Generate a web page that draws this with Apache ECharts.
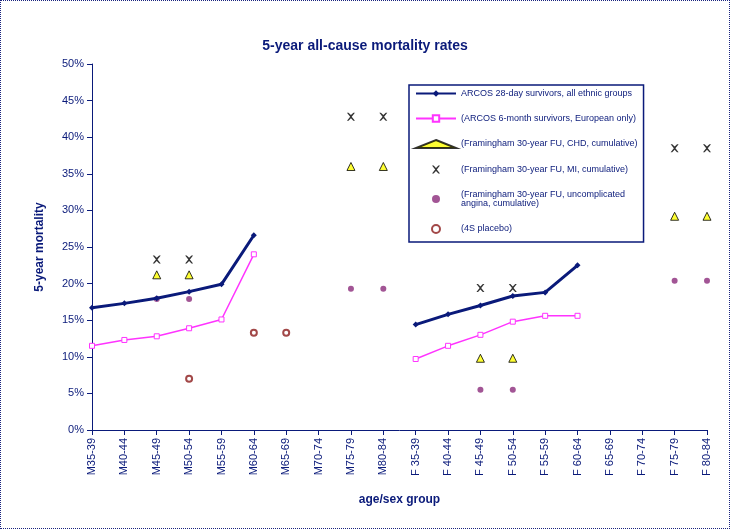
<!DOCTYPE html>
<html>
<head>
<meta charset="UTF-8">
<title>5-year all-cause mortality rates</title>
<script type="text/javascript" src="https://cdn.jsdelivr.net/npm/echarts@6/dist/echarts.min.js"></script>
<style type="text/css">
	body{ margin:0; }
	#main{ width:730px; height:529px; box-sizing:border-box; border:1px dotted #1a237e; }
</style>
</head>
<body>
<div id="main"></div>
<script type="text/javascript">
	var categories = ['M35-39','M40-44','M45-49','M50-54','M55-59','M60-64','M65-69','M70-74','M75-79','M80-84',
		'F 35-39','F 40-44','F 45-49','F 50-54','F 55-59','F 60-64','F 65-69','F 70-74','F 75-79','F 80-84'];
	var arcos28 = [16.7,17.3,18.0,18.9,19.9,26.6,null,null,null,null,14.4,15.8,17.0,18.3,18.8,22.5,null,null,null,null];
	var arcos6m = [11.5,12.3,12.8,13.9,15.1,24.0,null,null,null,null,9.7,11.5,13.0,14.8,15.6,15.6,null,null,null,null];
	var framChd = [null,null,21.2,21.2,null,null,null,null,36.0,36.0,null,null,9.8,9.8,null,null,null,null,29.2,29.2];
	var framMi = [null,null,23.3,23.3,null,null,null,null,42.8,42.8,null,null,19.4,19.4,null,null,null,null,38.5,38.5];
	var framAngina = [null,null,17.9,17.9,null,null,null,null,19.3,19.3,null,null,5.5,5.5,null,null,null,null,20.4,20.4];
	var placebo4s = [null,null,null,7.0,null,13.3,13.3,null,null,null,null,null,null,null,null,null,null,null,null,null];

	var xPath = 'path://M0,0L2,0L5,3L8,0L10,0L6,5L10,10L8,10L5,7L2,10L0,10L4,5Z';
	var navy = '#0a1a7a';

	var myChart = echarts.init(document.getElementById('main'));
	var option = {
		animation: false,
		title: {
			text: '5-year all-cause mortality rates',
			left: 'center', top: 33,
			textStyle: { fontFamily: 'Arial', fontSize: 14, fontWeight: 'bold', color: navy }
		},
		legend: {
			orient: 'vertical', left: 408, top: 84, width: 216, height: 160,
			itemWidth: 40, itemHeight: 8, itemGap: 16,
			borderColor: navy, borderWidth: 1.5, padding: [4, 6, 8, 6],
			textStyle: { fontFamily: 'Arial', fontSize: 9, color: navy },
			data: ['ARCOS 28-day survivors, all ethnic groups','(ARCOS 6-month survivors, European only)',
				'(Framingham 30-year FU, CHD, cumulative)','(Framingham 30-year FU, MI, cumulative)',
				'(Framingham 30-year FU, uncomplicated\nangina, cumulative)','(4S placebo)']
		},
		grid: { left: 91, right: 22, top: 63, bottom: 98 },
		xAxis: {
			type: 'category', data: categories, boundaryGap: false,
			axisLine: { lineStyle: { color: navy } },
			axisTick: { alignWithLabel: true, lineStyle: { color: navy } },
			axisLabel: { rotate: 90, interval: 0, fontFamily: 'Arial', fontSize: 11, color: navy },
			name: 'age/sex group', nameLocation: 'middle', nameGap: 64,
			nameTextStyle: { fontFamily: 'Arial', fontSize: 12, fontWeight: 'bold', color: navy }
		},
		yAxis: {
			type: 'value', min: 0, max: 50, interval: 5,
			axisLine: { show: true, lineStyle: { color: navy } },
			axisTick: { show: true, lineStyle: { color: navy } },
			splitLine: { show: false },
			axisLabel: { formatter: '{value}%', fontFamily: 'Arial', fontSize: 11, color: navy },
			name: '5-year mortality', nameLocation: 'middle', nameGap: 46,
			nameTextStyle: { fontFamily: 'Arial', fontSize: 12, fontWeight: 'bold', color: navy }
		},
		series: [
			{ name: 'ARCOS 28-day survivors, all ethnic groups', type: 'line', data: arcos28,
				symbol: 'diamond', symbolSize: 6, lineStyle: { color: navy, width: 3 }, itemStyle: { color: navy } },
			{ name: '(ARCOS 6-month survivors, European only)', type: 'line', data: arcos6m,
				symbol: 'rect', symbolSize: 5, lineStyle: { color: '#ff33ff', width: 1.5 },
				itemStyle: { color: '#ffffff', borderColor: '#ff33ff', borderWidth: 1 } },
			{ name: '(Framingham 30-year FU, CHD, cumulative)', type: 'scatter', data: framChd,
				symbol: 'triangle', symbolSize: 8, itemStyle: { color: '#ffff00', borderColor: '#000', borderWidth: 1 } },
			{ name: '(Framingham 30-year FU, MI, cumulative)', type: 'scatter', data: framMi,
				symbol: xPath, symbolSize: 8, itemStyle: { color: '#000' } },
			{ name: '(Framingham 30-year FU, uncomplicated\nangina, cumulative)', type: 'scatter', data: framAngina,
				symbol: 'circle', symbolSize: 6, itemStyle: { color: '#8b2a7a' } },
			{ name: '(4S placebo)', type: 'scatter', data: placebo4s,
				symbol: 'circle', symbolSize: 6, itemStyle: { color: '#ffffff', borderColor: '#8b1a1a', borderWidth: 2 } }
		]
	};
	myChart.setOption(option);
</script>
</body>
</html>
